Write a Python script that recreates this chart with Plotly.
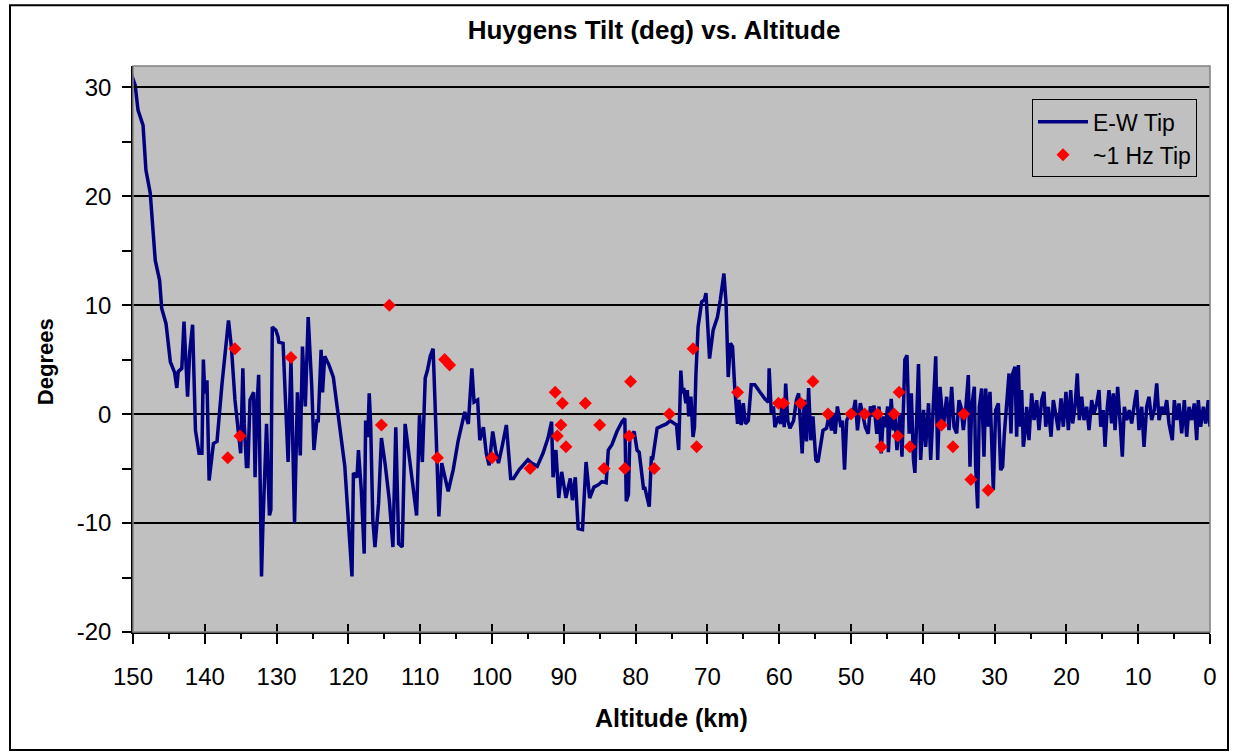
import plotly.graph_objects as go

# E-W Tip line: altitude (km) and tilt (deg)
ew_alt = [
150.4,149.7,149.3,148.6,148.2,147.6,146.9,146.3,146.0,145.4,144.8,144.2,143.9,143.7,143.2,142.9,142.4,142.1,141.7,141.3,
140.8,140.4,140.2,140.0,139.7,139.4,138.8,138.3,137.6,137.2,136.7,136.3,135.8,135.3,135.0,134.7,134.5,134.2,134.0,133.7,
133.2,133.0,132.8,132.5,132.1,131.9,131.4,131.0,130.8,130.6,130.1,129.8,129.7,129.1,128.6,128.4,128.0,127.8,127.5,127.1,
126.7,126.4,126.0,125.6,125.1,124.8,124.4,124.2,123.8,123.6,123.3,122.7,122.1,121.4,120.5,119.5,119.3,118.8,118.6,118.2,
117.8,117.6,117.3,117.1,116.9,116.6,116.3,115.8,115.4,114.9,114.3,113.8,113.4,113.0,112.5,112.1,111.4,110.9,110.5,110.1,
109.7,109.3,109.0,108.6,108.2,107.8,107.4,107.0,106.1,105.4,104.7,103.8,103.3,102.8,102.5,102.0,101.7,101.2,100.8,100.4,
99.9,99.5,99.1,98.6,98.0,97.4,97.0,96.2,95.6,95.0,94.5,93.7,92.9,92.2,91.7,91.5,91.1,90.7,90.3,89.8,
89.7,89.1,88.8,88.4,88.0,87.4,86.9,86.4,85.8,85.2,84.7,84.1,83.8,83.3,82.6,81.9,81.5,81.3,81.0,80.8,
80.2,79.8,79.5,78.9,78.7,78.1,77.8,77.6,77.0,76.4,75.7,75.2,75.0,74.3,74.0,73.7,73.5,73.3,73.0,72.8,
72.6,72.3,72.0,71.8,71.6,71.3,70.8,70.4,70.2,69.7,69.2,68.6,68.2,67.9,67.7,67.4,67.1,66.8,66.5,66.2,
65.8,65.6,65.3,65.0,64.7,64.3,63.9,63.4,62.7,62.0,61.5,61.4,61.1,60.8,60.6,60.1,59.8,59.6,59.3,59.1,
58.8,58.5,58.0,57.6,57.3,57.0,56.8,56.5,56.2,55.9,55.6,55.3,54.9,54.6,54.3,53.9,53.4,53.1,52.7,52.5,
52.2,51.9,51.4,51.2,50.9,50.6,50.1,49.8,49.4,49.1,48.7,48.4,48.0,47.6,47.3,47.0,46.8,46.4,46.1,45.8,
45.5,45.2,44.9,44.8,44.4,44.1,43.9,43.6,43.2,42.9,42.5,42.2,41.9,41.6,41.3,41.1,40.8,40.6,40.3,39.9,
39.6,39.2,38.9,38.5,38.2,37.93,37.6,37.14,36.68,36.35,35.98,35.65,35.28,34.96,34.68,34.35,34.03,33.66,33.43,33.2,
32.82,32.64,32.36,32.13,31.8,31.48,31.24,30.96,30.64,30.41,30.18,29.85,29.48,29.16,28.88,28.64,28.32,27.99,27.72,27.48,
27.16,26.93,26.69,26.46,26.23,26.0,25.77,25.53,25.21,24.84,24.51,24.14,23.82,23.44,23.12,22.88,22.52,22.14,21.82,21.49,
21.12,20.75,20.43,20.06,19.73,19.4,19.13,18.8,18.48,18.2,17.87,17.55,17.18,16.85,16.48,16.16,15.78,15.46,15.22,14.86,
14.62,14.3,14.07,13.7,13.47,13.23,12.86,12.54,12.21,11.93,11.6,11.24,10.91,10.45,10.21,9.89,9.51,9.19,8.82,8.5,
8.12,7.76,7.42,7.1,6.73,6.36,6.03,5.71,5.25,4.97,4.64,4.32,3.94,3.58,3.25,2.92,2.55,2.19,1.85,1.63,
1.3,0.93,0.6,0.24,0.0]
ew_tilt = [
31.5,30.2,27.9,26.5,22.4,20.3,14.1,12.3,9.7,8.3,4.8,3.8,2.4,3.9,4.2,8.5,1.6,5.7,8.2,-1.5,
-3.6,-3.6,5.0,1.9,3.1,-6.1,-2.7,-2.5,2.8,5.3,8.6,6.2,1.3,-1.8,-3.6,4.2,-0.9,-4.8,-4.8,1.3,
2.0,-5.8,-0.2,3.6,-14.9,-10.0,-0.9,-9.3,-8.8,8.0,7.7,7.1,6.6,6.5,-0.9,-4.4,5.0,-0.2,-10.0,2.0,
-3.8,6.2,0.7,8.9,2.5,-3.3,-0.6,-0.6,5.9,2.0,5.3,4.5,3.4,-0.2,-4.8,-14.9,-5.4,-5.8,-3.3,-7.0,
-12.8,-0.6,-2.1,1.9,-0.9,-9.7,-12.2,-8.2,-2.2,-4.5,-7.9,-12.2,-1.2,-11.9,-12.2,-0.9,-4.5,-7.3,-9.3,-0.1,
-4.4,3.3,4.0,5.3,6.0,-1.5,-9.4,-4.5,-7.1,-5.1,-2.4,0.2,-0.9,4.2,1.1,1.3,-2.4,-1.2,-3.6,-4.7,
-1.6,-3.3,-4.5,-3.0,-1.0,-5.9,-5.9,-5.1,-4.7,-4.2,-4.5,-4.8,-3.6,-2.2,-0.7,-5.8,-3.3,-7.7,-5.3,-7.6,
-7.7,-5.9,-7.9,-5.8,-10.5,-10.6,-4.4,-7.7,-6.7,-6.5,-6.2,-6.3,-3.3,-2.8,-1.6,-0.7,-0.4,-8.0,-7.4,-2.1,
-1.6,-3.3,-3.5,-6.8,-6.8,-8.5,-3.9,-4.0,-1.3,-1.1,-0.9,-0.6,-0.7,-1.0,-3.3,4.0,1.9,2.4,1.0,2.2,
-0.2,1.6,-2.1,-1.2,3.6,8.0,10.3,10.5,11.1,5.1,7.7,8.9,10.5,12.0,12.9,10.2,3.4,6.5,6.2,2.5,
-0.9,1.3,-1.0,1.0,-0.9,-0.6,2.7,2.7,2.0,1.4,1.1,4.2,0.1,0.7,-1.2,-0.2,-0.9,1.3,-1.2,2.8,
-0.6,-1.3,-0.6,1.3,1.9,-1.9,-3.6,1.3,-2.5,2.4,-2.4,-0.2,-4.2,-4.4,-3.0,-1.5,-1.3,-0.2,-1.5,0.1,
-1.8,0.7,-1.2,-0.6,-5.1,-0.6,0.2,-0.2,1.3,-1.5,1.0,0.1,-1.2,-1.8,0.7,-0.2,0.8,-1.8,0.7,-3.6,
-0.2,-1.2,0.7,-3.5,1.4,-1.5,0.1,-3.3,0.1,-3.9,5.0,5.4,-1.8,1.9,-4.2,-5.4,1.3,4.6,-4.2,0.4,
-3.0,1.0,-4.2,1.6,5.3,-4.2,2.5,-1.16,1.59,-1.47,2.51,-1.16,-1.77,1.28,0.67,-1.47,0.37,3.58,-4.83,0.67,
2.51,-4.83,-8.65,0.67,2.35,-3.91,2.35,-1.16,2.05,-2.39,-6.97,0.37,0.98,-5.14,-4.83,-1.77,0.67,3.73,-1.77,3.73,
4.34,-2.08,4.5,-1.16,2.2,-3.0,-1.77,0.67,-2.39,1.9,-0.55,1.28,-1.47,1.28,2.05,-1.16,0.67,-2.08,1.28,-0.24,
-1.47,1.44,-1.16,2.05,-1.47,2.2,-0.86,0.67,3.73,-0.55,1.59,-0.55,0.67,-1.47,1.28,0.06,0.98,2.2,-1.16,0.37,
-3.0,0.67,2.2,-0.86,1.9,-1.47,2.51,-0.55,-3.91,0.67,-0.55,0.37,-0.86,1.28,2.2,-1.47,0.67,-3.0,0.67,1.59,
-0.55,0.37,2.81,-0.55,0.67,0.06,1.28,-0.86,-2.39,1.28,-0.55,0.98,-1.77,1.28,-2.08,0.67,-0.55,0.98,-2.39,1.28,
-1.16,0.67,-0.86,1.28,-1.16]

# ~1 Hz Tip points
hz_alt = [136.8,135.8,135.1,128.0,115.4,114.3,107.6,106.6,105.9,100.0,94.7,91.2,90.9,90.4,90.2,89.7,87.0,85.0,84.4,81.5,
          80.9,80.7,77.4,75.3,72.0,71.5,65.8,60.1,59.4,57.0,55.3,53.2,50.0,48.1,46.3,45.8,44.0,43.5,43.3,41.8,
          37.4,35.8,34.3,33.3,30.9]
hz_tilt = [-4,6,-2,5.2,-1,10,-4,5,4.5,-4,-5,2,-2,-1,1,-3,1,-1,-5,-5,
           -2,3,-5,0,6,-3,2,1,1,1,3,0,0,0,0,-3,0,-2,2,-3,
           -1,-3,0,-6,-7]

x_ticks = list(range(0, 151, 10))
x_ticktext = [str(v) for v in x_ticks]
y_ticks = list(range(-20, 31, 10))
y_ticktext = [str(v) for v in y_ticks]   # plain hyphen minus, as in the original

FONT = "Liberation Sans, Arial, sans-serif"

fig = go.Figure()
fig.add_trace(go.Scatter(x=ew_alt, y=ew_tilt, mode="lines", name="E-W Tip",
                         line=dict(color="#000080", width=3.5)))
fig.add_trace(go.Scatter(x=hz_alt, y=hz_tilt, mode="markers", name="~1 Hz Tip",
                         marker=dict(symbol="diamond", color="#ff0000", size=10, line=dict(width=0))))
# helper trace for overlay axes (inner half of crossing ticks)
fig.add_trace(go.Scatter(x=[None], y=[None], xaxis="x2", yaxis="y2", showlegend=False, hoverinfo="skip"))

fig.update_layout(
    width=1238, height=752,
    margin=dict(l=133, r=28, t=66, b=120),
    paper_bgcolor="white", plot_bgcolor="#c0c0c0",
    font=dict(family=FONT, color="black", size=22),
    title=dict(text="<b>Huygens Tilt (deg) vs. Altitude</b>", x=654 / 1238, xanchor="center",
               y=1 - 30 / 752, yanchor="middle", yref="container", font=dict(size=26, family=FONT)),
    showlegend=True,
    legend=dict(x=(1032 - 133) / 1077, y=(632 - 99) / 566.3, xanchor="left", yanchor="top",
                bgcolor="#c0c0c0", bordercolor="black", borderwidth=1, itemwidth=50,
                font=dict(size=23, family=FONT), tracegroupgap=4),
    xaxis=dict(range=[150, 0], tickvals=x_ticks, ticktext=x_ticktext, ticks="outside", ticklen=10,
               tickwidth=1.5, tickcolor="black",
               showline=True, linecolor="black", linewidth=1.5, showgrid=False, zeroline=False,
               tickfont=dict(size=24, family=FONT), ticklabelstandoff=12,
               minor=dict(dtick=5, ticks="outside", ticklen=5, tickwidth=1.5, tickcolor="black", showgrid=False),
               automargin=False),
    yaxis=dict(range=[-20, 31.95], tickvals=y_ticks, ticktext=y_ticktext, ticks="outside", ticklen=9,
               tickwidth=1.5, tickcolor="black",
               showline=True, linecolor="black", linewidth=1.5, showgrid=True, gridcolor="black", gridwidth=1.5,
               zeroline=False, tickfont=dict(size=24, family=FONT), ticklabelstandoff=6,
               minor=dict(dtick=5, ticks="outside", ticklen=9, tickwidth=1.5, tickcolor="black", showgrid=False),
               automargin=False),
    xaxis2=dict(range=[150, 0], overlaying="x", anchor="y2", tickvals=x_ticks, ticks="inside", ticklen=8,
                tickwidth=1.5, tickcolor="black", showticklabels=False, showgrid=False, zeroline=False,
                showline=False),
    yaxis2=dict(range=[-20, 31.95], overlaying="y", anchor="x2", side="left", tickvals=y_ticks, ticks="inside",
                ticklen=9, tickwidth=1.5, tickcolor="black", showticklabels=False, showgrid=False,
                zeroline=False, showline=False),
    annotations=[
        dict(text="<b>Altitude (km)</b>", xref="paper", yref="paper", x=(671 - 133) / 1077, y=(632 - 718) / 566.3,
             xanchor="center", yanchor="middle", showarrow=False, font=dict(size=25, family=FONT)),
        dict(text="<b>Degrees</b>", xref="paper", yref="paper", x=(45 - 133) / 1077, y=(632 - 362) / 566.3,
             xanchor="center", yanchor="middle", textangle=-90, showarrow=False, font=dict(size=22, family=FONT)),
    ],
    shapes=[
        dict(type="rect", xref="paper", yref="paper", x0=0, x1=1, y0=0, y1=1,
             line=dict(color="#808080", width=1.5), layer="above"),
        dict(type="rect", xref="paper", yref="paper", x0=(10 - 133) / 1077, x1=(1228 - 133) / 1077,
             y0=(632 - 750) / 566.3, y1=(632 - 5) / 566.3, line=dict(color="black", width=2)),
    ],
)

fig.write_html("out.html")
